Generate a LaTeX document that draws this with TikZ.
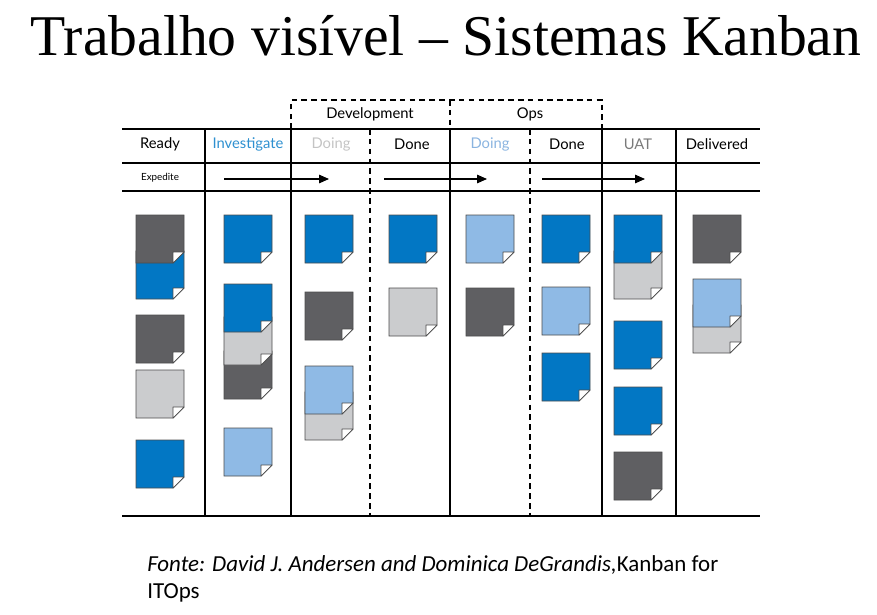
\documentclass[tikz,border=0pt]{standalone}
\usepackage{fontspec}
\setmainfont{Liberation Serif}
\newfontfamily\boardfont{Lato}
\newfontfamily\notefont{Carlito}
\usetikzlibrary{arrows.meta, positioning}
\definecolor{kdark}{HTML}{5F5F62}
\definecolor{kblue}{HTML}{0277C4}
\definecolor{klight}{HTML}{8FBAE5}
\definecolor{kgray}{HTML}{CBCCCE}
\definecolor{hblue}{HTML}{2E90D0}
\definecolor{hpale}{HTML}{C4C4C4}
\definecolor{hsky}{HTML}{8AB4E0}
\definecolor{hgrey}{HTML}{7A7A7A}
\tikzstyle{card} = [draw=black!70, line width=0.5pt]
\tikzstyle{fold} = [draw=black!70, fill=white, line width=0.5pt, line join=round]
\tikzstyle{grid} = [line width=1pt]
\tikzstyle{griddash} = [line width=1pt, dash pattern=on 4pt off 3pt]
\tikzstyle{colhead} = [font=\boardfont\fontsize{10.5}{12}\selectfont, inner sep=1pt]
\tikzstyle{grouphead} = [font=\boardfont\fontsize{10.5}{12}\selectfont, inner sep=1pt]
\tikzstyle{connector} = [draw, line width=0.8pt, -{Triangle[length=7pt,width=6pt]}]
% card with folded corner: x, y (top), colour
\newcommand{\kcard}[3]{%
  \filldraw[card, fill=#3] (#1,#2) -- ++(48,0) -- ++(0,37) -- ++(-11,11) -- ++(-37,0) -- cycle;
  \filldraw[fold] (#1+37,#2+37) -- ++(11,0) -- ++(-11,11) -- cycle;}

\begin{document}
\begin{tikzpicture}[x=0.025cm, y=-0.025cm]
    \useasboundingbox (0,0) rectangle (877,614);

    % Title
    \node [font=\fontsize{41}{46}\selectfont] (title) at (446,36) {Trabalho visível – Sistemas Kanban};

    % Board lines
    \draw [grid] (122,129) -- (760,129);
    \draw [grid] (122,163) -- (760,163);
    \draw [grid] (122,191) -- (760,191);
    \draw [grid] (122,516) -- (760,516);
    \foreach \x in {205, 291, 450, 602, 676}
        \draw [grid] (\x,129) -- (\x,516);
    \foreach \x in {370, 530}
        \draw [griddash] (\x,129) -- (\x,516);
    \draw [griddash] (291,129) -- (291,100) -- (602,100) -- (602,129);
    \draw [griddash] (450,100) -- (450,129);

    % Group headers
    \node [grouphead] (dev) at (370,114) {Development};
    \node [grouphead] (ops) at (530,114) {Ops};

    % Column headers
    \node [colhead] (ready) at (160,144) {Ready};
    \node [colhead, text=hblue] (invest) at (248,144) {Investigate};
    \node [colhead, text=hpale] (devdoing) at (331,144) {Doing};
    \node [colhead] (devdone) at (412,144) {Done};
    \node [colhead, text=hsky] (opsdoing) at (490,144) {Doing};
    \node [colhead] (opsdone) at (567,144) {Done};
    \node [colhead, text=hgrey] (uat) at (638,144) {UAT};
    \node [colhead] (delivered) at (717,144) {Delivered};

    % Expedite lane
    \node [font=\boardfont\fontsize{7}{8}\selectfont] (expedite) at (160,178) {Expedite};
    \coordinate (ea) at (224,179);
    \coordinate (eb) at (329,179);
    \coordinate (ec) at (384,179);
    \coordinate (ed) at (487,179);
    \coordinate (ee) at (542,179);
    \coordinate (ef) at (645,179);
    \path [connector] (ea) -- (eb);
    \path [connector] (ec) -- (ed);
    \path [connector] (ee) -- (ef);

    % Ready
    \kcard{136}{251}{kblue}
    \kcard{136}{215}{kdark}
    \kcard{136}{315}{kdark}
    \kcard{136}{370}{kgray}
    \kcard{136}{440}{kblue}
    % Investigate
    \kcard{224}{215}{kblue}
    \kcard{224}{351}{kdark}
    \kcard{224}{317}{kgray}
    \kcard{224}{284}{kblue}
    \kcard{224}{428}{klight}
    % Development - Doing
    \kcard{305}{215}{kblue}
    \kcard{305}{292}{kdark}
    \kcard{305}{392}{kgray}
    \kcard{305}{366}{klight}
    % Development - Done
    \kcard{389}{215}{kblue}
    \kcard{389}{288}{kgray}
    % Ops - Doing
    \kcard{466}{215}{klight}
    \kcard{466}{288}{kdark}
    % Ops - Done
    \kcard{542}{215}{kblue}
    \kcard{542}{287}{klight}
    \kcard{542}{353}{kblue}
    % UAT
    \kcard{614}{251}{kgray}
    \kcard{614}{215}{kblue}
    \kcard{614}{321}{kblue}
    \kcard{614}{387}{kblue}
    \kcard{614}{452}{kdark}
    % Delivered
    \kcard{693}{215}{kdark}
    \kcard{693}{305}{kgray}
    \kcard{693}{279}{klight}

    % Source
    \node [font=\notefont\fontsize{16.3}{19.5}\selectfont, anchor=north west, align=left, inner sep=0pt] (source) at (147,555)
        {\textit{Fonte: David J. Andersen and Dominica DeGrandis,}Kanban for\\ITOps};
\end{tikzpicture}
\end{document}
